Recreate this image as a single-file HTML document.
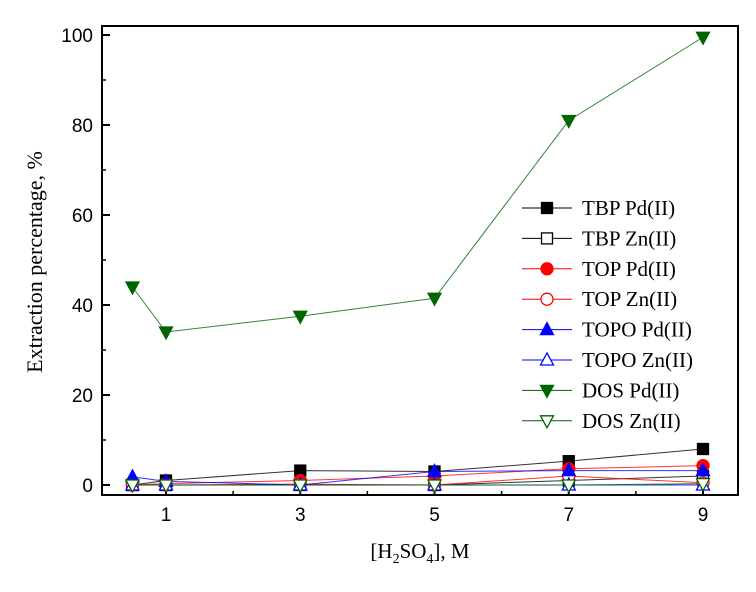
<!DOCTYPE html>
<html><head><style>body{margin:0;background:#fff}svg{display:block}</style></head>
<body>
<svg id="c" width="756" height="592" xmlns="http://www.w3.org/2000/svg"></svg>
<script>
const xCats=[0.5,1,3,5,7,9];
const tbpPd=[0,1,3.2,3,5.3,8];
const tbpZn=[0,0,0,0,1,2];
const topPd=[0,0.3,1,2,3.6,4.3];
const topZn=[0,0,0.2,0,2,0.5];
const topoPd=[1.8,0.8,0,3,3.2,3.2];
const topoZn=[0,0,0,0,0,0];
const dosPd=[44,34,37.5,41.5,81,99.5];
const dosZn=[0,0,0,0,0,0.3];
const xTicks=[1,3,5,7,9];
const yTicks=[0,20,40,60,80,100];
const seriesNames=["TBP Pd(II)","TBP Zn(II)","TOP Pd(II)","TOP Zn(II)","TOPO Pd(II)","TOPO Zn(II)","DOS Pd(II)","DOS Zn(II)"];

const svg=document.getElementById('c');const NS="http://www.w3.org/2000/svg";
function X(v){return 166+(v-1)*67.125;}
function Y(v){return 485-v*4.5;}
function mk(t,a,p){const e=document.createElementNS(NS,t);for(const k in a)e.setAttribute(k,a[k]);(p||svg).appendChild(e);return e;}
const L=102,R=738,T=26,B=495;
const frame=mk('rect',{x:L,y:T,width:R-L,height:B-T,fill:'none',stroke:'#000','stroke-width':2});


yTicks.forEach(v=>{mk('line',{x1:L,x2:L+8,y1:Y(v),y2:Y(v),stroke:'#000','stroke-width':2});
 if(v<100)mk('line',{x1:L,x2:L+4,y1:Y(v+10),y2:Y(v+10),stroke:'#000','stroke-width':1.5});
 const t=mk('text',{x:L-9,y:Y(v)+7,'text-anchor':'end','font-family':'Liberation Sans, sans-serif','font-size':19});t.textContent=v;
 
 });
xTicks.forEach(v=>{mk('line',{x1:X(v),x2:X(v),y1:B,y2:B-8,stroke:'#000','stroke-width':2});
 mk('line',{x1:X(v+1),x2:X(v+1),y1:B,y2:B-4,stroke:'#000','stroke-width':1.5});
 const t=mk('text',{x:X(v),y:B+26,'text-anchor':'middle','font-family':'Liberation Sans, sans-serif','font-size':19});t.textContent=v;
 
 });
const yl=mk('text',{transform:'translate(42,262) rotate(-90)','text-anchor':'middle','font-family':'Liberation Serif, serif','font-size':22});yl.textContent='Extraction percentage, %';


const xl=mk('text',{x:420,y:558,'text-anchor':'middle','font-family':'Liberation Serif, serif','font-size':21});
xl.innerHTML='[H<tspan font-size="14" dy="5">2</tspan><tspan dy="-5">SO</tspan><tspan font-size="14" dy="5">4</tspan><tspan dy="-5">], M</tspan>';



function marker(g,shape,filled,color,x,y){
 const f=filled?color:'#fff',s=5.5;
 if(shape==='sq')mk('rect',{x:x-s,y:y-s,width:2*s,height:2*s,fill:f,stroke:color,'stroke-width':1.3},g);
 else if(shape==='ci')mk('circle',{cx:x,cy:y,r:s+0.5,fill:f,stroke:color,'stroke-width':1.3},g);
 else if(shape==='up')mk('polygon',{points:`${x},${y-7} ${x-6.5},${y+5} ${x+6.5},${y+5}`,fill:f,stroke:color,'stroke-width':1.3},g);
 else mk('polygon',{points:`${x},${y+7} ${x-6.5},${y-5} ${x+6.5},${y-5}`,fill:f,stroke:color,'stroke-width':1.3},g);
}
const series=[[tbpPd,'sq',1,'#000'],[tbpZn,'sq',0,'#000'],[topPd,'ci',1,'#f00'],[topZn,'ci',0,'#f00'],[topoPd,'up',1,'#00f'],[topoZn,'up',0,'#00f'],[dosPd,'dn',1,'#006400'],[dosZn,'dn',0,'#006400']];
series.forEach((s,i)=>{
 const g=mk('g',{});
 
 
 mk('polyline',{points:s[0].map((v,j)=>X(xCats[j])+','+Y(v)).join(' '),fill:'none',stroke:s[3],'stroke-width':1,'stroke-opacity':0.8},g);
 s[0].forEach((v,j)=>marker(g,s[1],s[2],s[3],X(xCats[j]),Y(v)));
 const ly=208+i*30.4;
 const lg=mk('g',{});
 
 
 mk('line',{x1:522,x2:572,y1:ly,y2:ly,stroke:s[3],'stroke-width':1},lg);
 marker(lg,s[1],s[2],s[3],547,ly);
 const t=mk('text',{x:582,y:ly+7,'font-family':'Liberation Serif, serif','font-size':21},lg);t.textContent=seriesNames[i];
});
</script>
</body></html>
